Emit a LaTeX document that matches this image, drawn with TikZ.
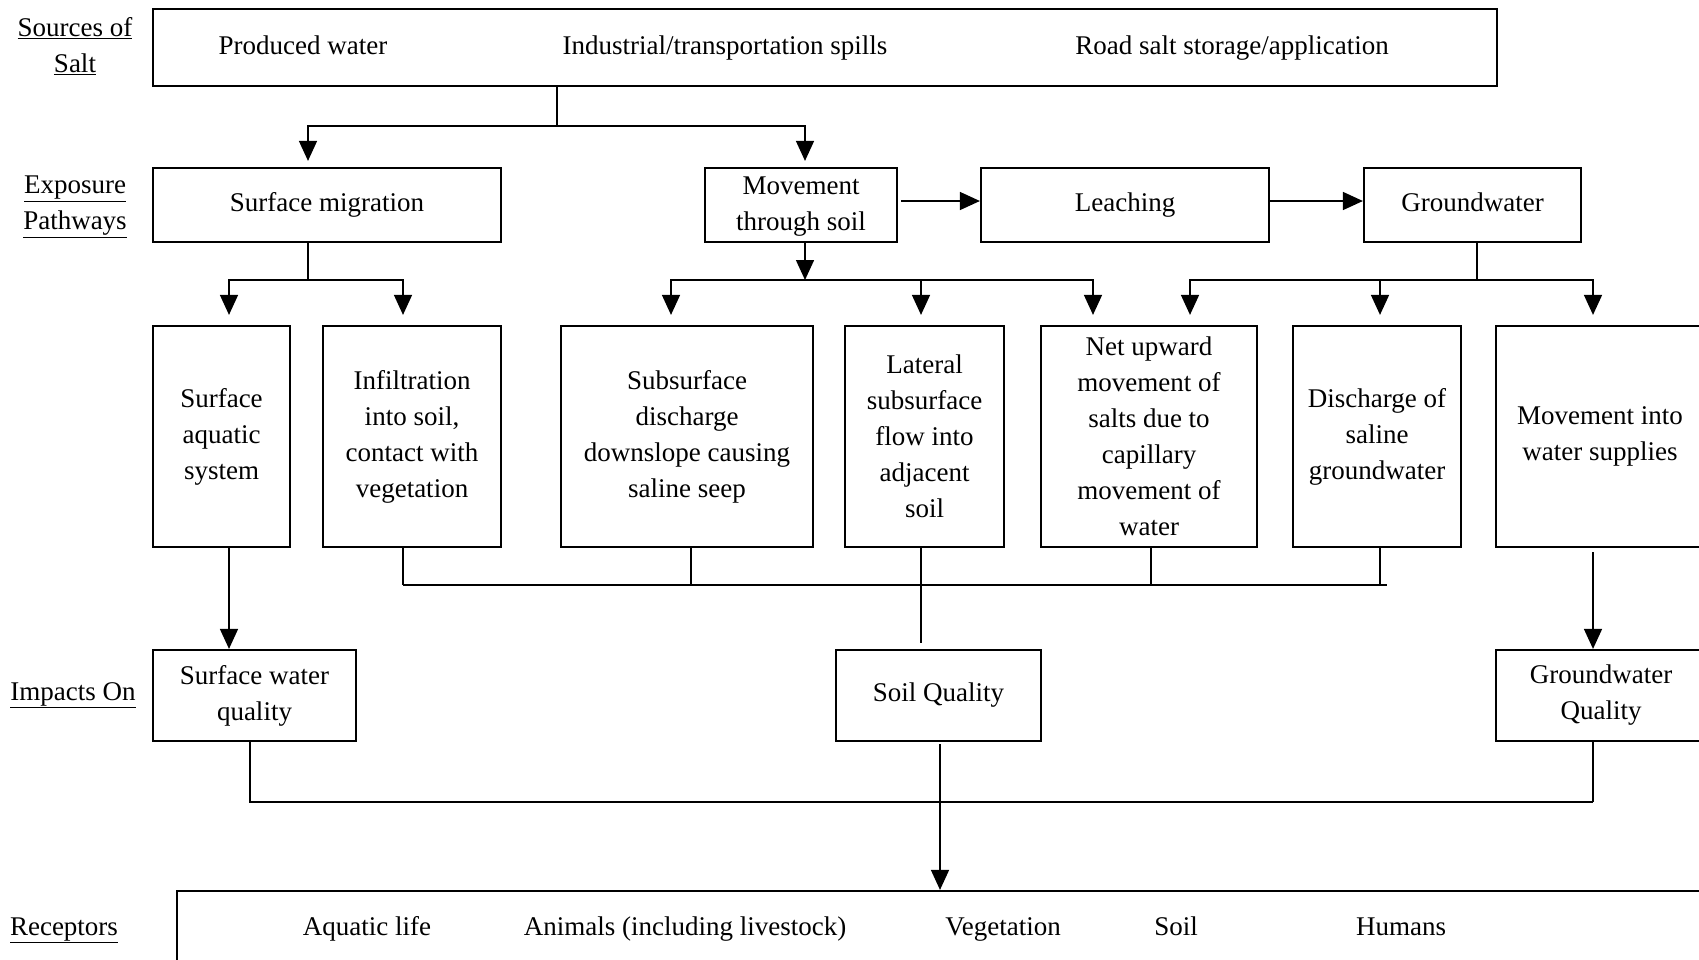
\documentclass[tikz,border=0pt]{standalone}
\usepackage{fontspec}
\setmainfont{Liberation Serif}
\usetikzlibrary{arrows.meta}
\newcommand\fs{\fontsize{27}{36}\selectfont}
\begin{document}
\begin{tikzpicture}[x=1pt,y=-1pt,
  box/.style={draw, line width=2.2pt, inner sep=0pt, align=center, font=\fs},
  lbl/.style={inner sep=0pt, align=center, font=\fs},
  one/.style={text height=18pt, text depth=6pt},
  ln/.style={line width=1.5pt},
  arr/.style={line width=1.5pt, -{Triangle[length=20pt,width=18pt]}},
]
\useasboundingbox (0,0) rectangle (1699,959);
\clip (0,0) rectangle (1699,959);
\fill[white] (0,0) rectangle (1699,959);

% left labels
\node[lbl] (Lsrc) at (75,46) {\underline{Sources of}\\\underline{Salt}};
\node[lbl] (Lexp) at (75,207) {\underline{Exposure}\\\underline{Pathways}};
\node[lbl, one] (Limp) at (73,694) {\underline{Impacts On}};
\node[lbl, one] (Lrec) at (64,929) {\underline{Receptors}};

% sources
\node[box, minimum width=1344pt, minimum height=77pt] (src) at (825,47.5) {};
\node[lbl, one] (t1) at (303,48) {Produced water};
\node[lbl, one] (t2) at (725,48) {Industrial/transportation spills};
\node[lbl, one] (t3) at (1232,48) {Road salt storage/application};

% row 2
\node[box, one, minimum width=348pt, minimum height=74pt] (surfmig) at (327,205) {Surface migration};
\node[box, minimum width=192pt, minimum height=74pt] (move) at (801,205) {};
\node[lbl] (movetxt) at (801,207) {Movement\\through soil};
\node[box, one, minimum width=288pt, minimum height=74pt] (leach) at (1125,205) {Leaching};
\node[box, one, minimum width=217pt, minimum height=74pt] (gw) at (1472.5,205) {Groundwater};

% row 3
\node[box, minimum width=137pt, minimum height=221pt] (saq) at (221.5,436.5) {Surface\\aquatic\\system};
\node[box, minimum width=178pt, minimum height=221pt] (infil) at (412,436.5) {Infiltration\\into soil,\\contact with\\vegetation};
\node[box, minimum width=252pt, minimum height=221pt] (subs) at (687,436.5) {Subsurface\\discharge\\downslope causing\\saline seep};
\node[box, minimum width=159pt, minimum height=221pt] (lat) at (924.5,436.5) {Lateral\\subsurface\\flow into\\adjacent\\soil};
\node[box, minimum width=216pt, minimum height=221pt] (netup) at (1149,436.5) {Net upward\\movement of\\salts due to\\capillary\\movement of\\water};
\node[box, minimum width=168pt, minimum height=221pt] (disch) at (1377,436.5) {Discharge of\\saline\\groundwater};
\node[box, minimum width=208pt, minimum height=221pt] (mws) at (1600,436.5) {Movement into\\water supplies};

% row 4
\node[box, minimum width=203pt, minimum height=91pt] (swq) at (254.5,695.5) {Surface water\\quality};
\node[box, one, minimum width=205pt, minimum height=91pt] (sq) at (938.5,695.5) {Soil Quality};
\node[box, minimum width=210pt, minimum height=91pt] (gwq) at (1601,695.5) {Groundwater\\Quality};

% receptors
\node[box, minimum width=1553pt, minimum height=119pt] (rec) at (953.5,950.5) {};
\node[lbl, one] (r1) at (367,929) {Aquatic life};
\node[lbl, one] (r2) at (685,929) {Animals (including livestock)};
\node[lbl, one] (r3) at (1003,929) {Vegetation};
\node[lbl, one] (r4) at (1176,929) {Soil};
\node[lbl, one] (r5) at (1401,929) {Humans};

% connectors: sources -> row 2
\coordinate (j1) at (557,126);
\draw[ln] (src.south -| j1) -- (j1);
\draw[arr, shorten >=6pt] (j1) -| (surfmig.north -| 308,0);
\draw[arr, shorten >=6pt] (j1) -| (move.north -| 805,0);

% row 2 horizontal
\draw[arr] ([xshift=3pt,yshift=4pt]move.east) -- ([yshift=4pt]leach.west);
\draw[arr] ([yshift=4pt]leach.east) -- ([yshift=4pt]gw.west);

% surface migration -> row 3
\coordinate (j2) at (308,280);
\draw[ln] (surfmig.south -| j2) -- (j2);
\draw[arr, shorten >=10pt] (j2) -| (saq.north -| 229,0);
\draw[arr, shorten >=10pt] (j2) -| (infil.north -| 403,0);

% movement through soil -> row 3
\coordinate (j3) at (805,280);
\draw[arr] (move.south -| j3) -- (j3);
\draw[arr, shorten >=10pt] (j3) -| (subs.north -| 671,0);
\draw[arr, shorten >=10pt] (j3) -| (lat.north -| 921,0);
\draw[arr, shorten >=10pt] (j3) -| (netup.north -| 1093,0);

% groundwater -> row 3
\coordinate (j4) at (1477,280);
\draw[ln] (gw.south -| j4) -- (j4);
\draw[arr, shorten >=10pt] (j4) -| (netup.north -| 1190,0);
\draw[arr, shorten >=10pt] (j4) -| (disch.north -| 1380,0);
\draw[arr, shorten >=10pt] (j4) -| (mws.north -| 1593,0);

% row 3 -> row 4
\draw[arr] (saq.south -| 229,0) -- (swq.north -| 229,0);
\coordinate (h1) at (403,585);
\coordinate (h2) at (1387,585);
\draw[ln] (h1) -- (h2);
\draw[ln] (infil.south -| h1) -- (h1);
\draw[ln] (subs.south -| 691,0) |- (h1);
\draw[ln] (netup.south -| 1151,0) |- (h2);
\draw[ln] (disch.south -| 1380,0) |- (h2);
\coordinate (latend) at (921,643);
\draw[ln] (lat.south -| latend) -- (latend);
\draw[arr, shorten <=4pt] (mws.south -| 1593,0) -- (gwq.north -| 1593,0);

% row 4 -> receptors
\coordinate (b2) at (1593,802);
\draw[ln] (swq.south -| 250,0) |- (b2);
\draw[ln] (gwq.south -| b2) -- (b2);
\draw[arr, shorten <=2pt] (sq.south -| 940,0) -- (rec.north -| 940,0);
\end{tikzpicture}
\end{document}
